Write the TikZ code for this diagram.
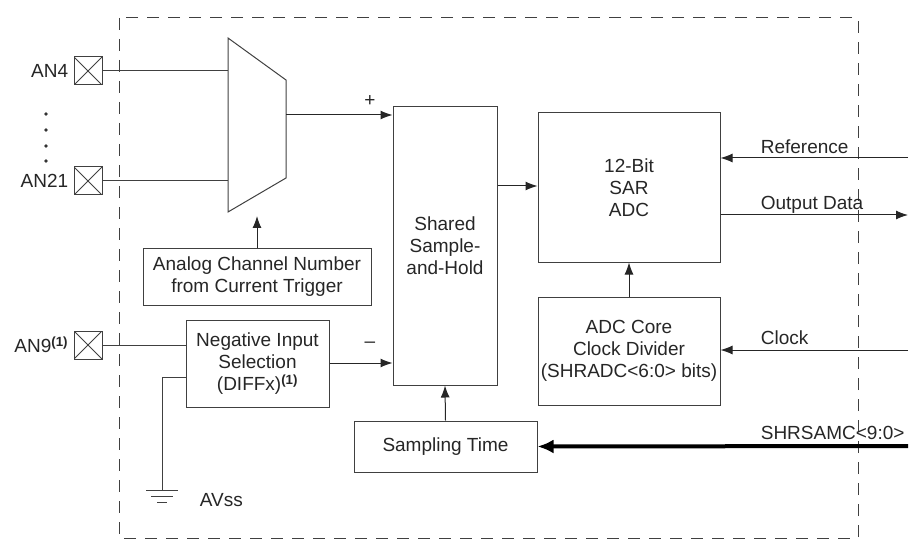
\documentclass[tikz,border=0pt]{standalone}
\usepackage{fontspec}
\setmainfont{Liberation Sans}
\usetikzlibrary{arrows.meta}
\begin{document}
\begin{tikzpicture}[x=1pt,y=-1pt,line width=1pt,draw=black!75,
  blk/.style={draw=black!75,line width=1pt},
  lbl/.style={font=\fontsize{19}{22}\selectfont,text=black!85},
  pin/.style={draw=black!75,minimum size=28pt,inner sep=0,path picture={\draw[black!75] (path picture bounding box.south west)--(path picture bounding box.north east) (path picture bounding box.north west)--(path picture bounding box.south east);}},
  arr/.style={-{Latex[length=12pt,width=9pt]},draw=black!85}]
\useasboundingbox (0,0) rectangle (912,545);
\draw[dash pattern=on 12pt off 9pt,draw=black!75] (119,18) rectangle (858,538);
% pins
\node[pin] (an4) at (88,71) {};
\node[pin] (an21) at (88,181) {};
\node[pin] (an9) at (88,345) {};
\node[lbl,anchor=east] (t4) at (72,71) {AN4};
\node[lbl,anchor=east] (t21) at (72,181) {AN21};
\node[lbl,anchor=east] (t9) at (72,345) {AN9\textsuperscript{\textbf{(1)}}};
\foreach \y in {114,130,146,161} \fill[black!80] (46,\y) circle (1.8);
% mux
\draw[blk] (228,38) -- (286,80) -- (286,178) -- (228,212) -- cycle;
\coordinate (m4) at (228,71); \coordinate (m21) at (228,181);
\coordinate (mo) at (286,115); \coordinate (mb) at (257,216);
\draw (an4.east) -- (m4); \draw (an21.east) -- (m21);
% boxes
\node[blk,minimum width=104pt,minimum height=278pt,lbl,align=center] (sh) at (445,246) {Shared\\Sample-\\and-Hold};
\node[blk,minimum width=228pt,minimum height=56pt,lbl,align=center,inner sep=1pt] (acn) at (257,277) {Analog Channel Number\\from Current Trigger};
\node[blk,minimum width=143pt,minimum height=87pt,lbl,align=center,inner sep=1pt] (neg) at (257.5,363.5) {Negative Input\\Selection\\(DIFFx)\textsuperscript{\textbf{(1)}}};
\node[blk,minimum width=183pt,minimum height=51pt,lbl] (st) at (445.5,446.5) {Sampling Time};
\node[blk,minimum width=182pt,minimum height=149pt,lbl,align=center] (sar) at (629,187.5) {12-Bit\\SAR\\ADC};
\node[blk,minimum width=182pt,minimum height=108pt,lbl,align=center,inner sep=1pt] (core) at (629,351) {ADC Core\\Clock Divider\\(SHRADC<6:0> bits)};
% connections
\draw[arr] (mo) -- (sh.west |- mo);
\node[lbl] (plus) at (370,101) {+};
\draw[arr] (neg.east |- 0,363) -- (sh.west |- 0,363);
\node[lbl] (minus) at (370,345) {--};
\draw[arr] (acn.north) -- (mb);
\draw (an9.east) -- (neg.west |- an9.east);
\coordinate (g) at (162,490);
\draw (neg.west |- 0,377) -- (162,377) -- (g);
\draw (146,490) -- (178,490) (151,496) -- (173,496) (157,502) -- (167,502);
\node[lbl,anchor=west] (avss) at (196,500) {AVss};
\draw[arr] (st.north) -- (sh.south);
\draw[arr] (sh.east |- 0,186) -- (sar.west |- 0,186);
\draw[arr] (core.north) -- (sar.south);
\coordinate (r1) at (908,158); \coordinate (r2) at (908,215); \coordinate (r3) at (908,350); \coordinate (r4) at (908,446);
\draw[arr] (r1) -- (sar.east |- r1);
\draw[arr] (sar.east |- r2) -- (r2);
\draw[arr] (r3) -- (core.east |- r3);
\draw[-{Latex[length=16pt,width=14pt]},line width=4pt,draw=black] (r4) -- (st.east);
\node[lbl,anchor=west] (tr) at (757,147) {Reference};
\node[lbl,anchor=west] (to) at (757,205) {Output Data};
\node[lbl,anchor=west] (tc) at (757,338) {Clock};
\node[lbl,anchor=west] (ts) at (757,433) {SHRSAMC<9:0>};
\end{tikzpicture}
\end{document}
